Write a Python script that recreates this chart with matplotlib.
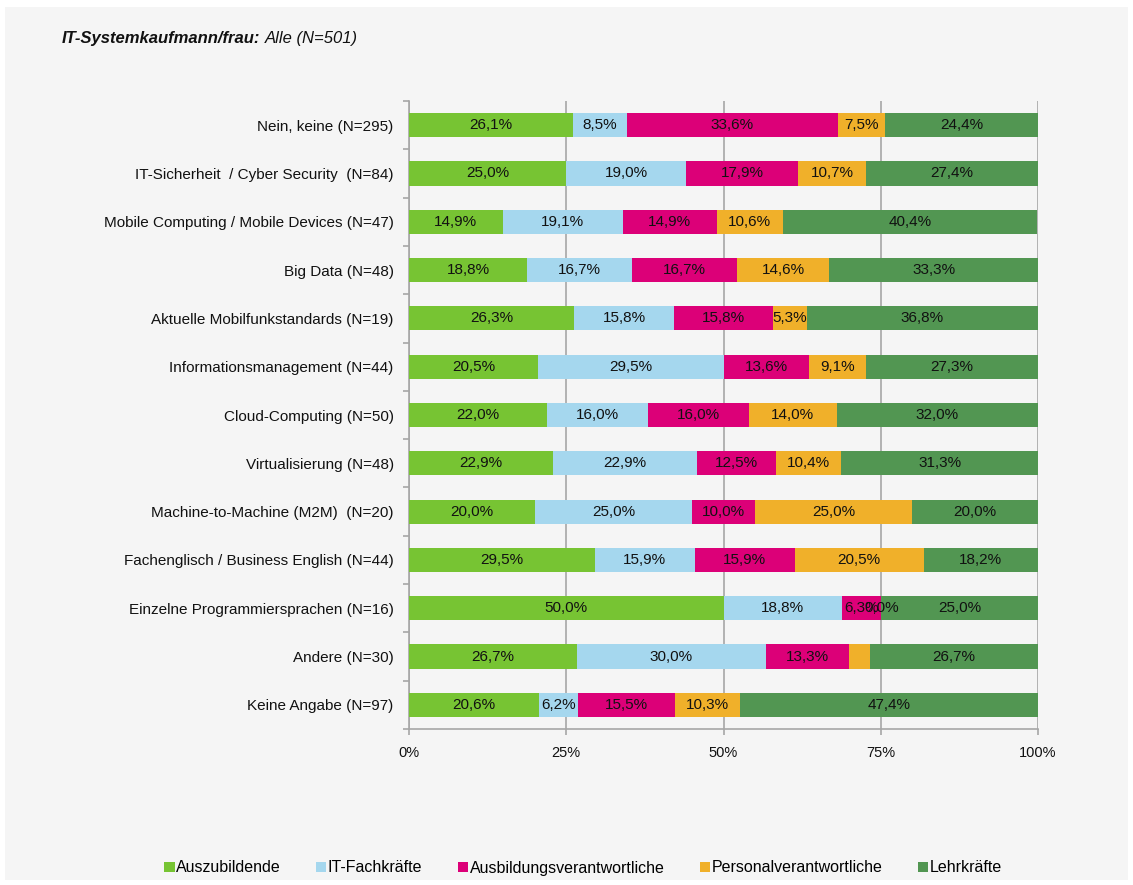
import matplotlib
matplotlib.use("Agg")
import matplotlib.pyplot as plt
from matplotlib.patches import Rectangle
import numpy as np

plt.rcParams['font.family'] = ['Liberation Sans', 'DejaVu Sans']

categories = [
    "Nein, keine (N=295)",
    "IT-Sicherheit  / Cyber Security  (N=84)",
    "Mobile Computing / Mobile Devices (N=47)",
    "Big Data (N=48)",
    "Aktuelle Mobilfunkstandards (N=19)",
    "Informationsmanagement (N=44)",
    "Cloud-Computing (N=50)",
    "Virtualisierung (N=48)",
    "Machine-to-Machine (M2M)  (N=20)",
    "Fachenglisch / Business English (N=44)",
    "Einzelne Programmiersprachen (N=16)",
    "Andere (N=30)",
    "Keine Angabe (N=97)",
]
series_names = ["Auszubildende", "IT-Fachkräfte", "Ausbildungsverantwortliche",
                "Personalverantwortliche", "Lehrkräfte"]
auszubildende = [26.1, 25.0, 14.9, 18.8, 26.3, 20.5, 22.0, 22.9, 20.0, 29.5, 50.0, 26.7, 20.6]
it_fachkraefte = [8.5, 19.0, 19.1, 16.7, 15.8, 29.5, 16.0, 22.9, 25.0, 15.9, 18.8, 30.0, 6.2]
ausbildungsverantw = [33.6, 17.9, 14.9, 16.7, 15.8, 13.6, 16.0, 12.5, 10.0, 15.9, 6.3, 13.3, 15.5]
personalverantw = [7.5, 10.7, 10.6, 14.6, 5.3, 9.1, 14.0, 10.4, 25.0, 20.5, 0.0, 3.3, 10.3]
lehrkraefte = [24.4, 27.4, 40.4, 33.3, 36.8, 27.3, 32.0, 31.3, 20.0, 18.2, 25.0, 26.7, 47.4]
# label not shown in the reference for this (category, series) pair
hidden_labels = [("Andere (N=30)", "Personalverantwortliche")]

series = [auszubildende, it_fachkraefte, ausbildungsverantw, personalverantw, lehrkraefte]
colors = ["#77c433", "#a5d7ee", "#dc0078", "#f0b02a", "#529652"]

W, H = 1133, 885
fig = plt.figure(figsize=(W / 100, H / 100), dpi=100)
fig.patch.set_facecolor("white")
fig.add_artist(Rectangle((5 / W, 5 / H), (W - 10) / W, (H - 12) / H,
                         transform=fig.transFigure, facecolor="#f5f5f5",
                         edgecolor="none", zorder=-10))

ax = fig.add_axes([409 / W, 1 - 729 / H, (1038 - 409) / W, (729 - 101) / H])
ax.set_facecolor("none")

y = np.arange(len(categories))
left = np.zeros(len(categories))
for name, vals, col in zip(series_names, series, colors):
    vals = np.array(vals)
    ax.barh(y, vals, left=left, height=0.5, color=col, label=name,
            edgecolor="none", zorder=3)
    for i, v in enumerate(vals):
        if (categories[i], name) in hidden_labels:
            continue
        ax.text(left[i] + v / 2, y[i], f"{v:.1f}%".replace(".", ","),
                ha="center", va="center", fontsize=11, color="#111111",
                zorder=5)
    left = left + vals

ax.set_xlim(0, 100)
ax.set_ylim(len(categories) - 0.5, -0.5)
ax.set_xticks([0, 25, 50, 75, 100])
ax.set_xticklabels(["0%", "25%", "50%", "75%", "100%"], fontsize=10.5)
ax.set_yticks(y)
ax.set_yticklabels(categories, fontsize=11)
ax.set_yticks(np.arange(-0.5, len(categories) + 0.5, 1), minor=True)

gridcol = "#a6a6a6"
ax.xaxis.grid(True, color=gridcol, linewidth=1.2, zorder=0)
ax.set_axisbelow(True)
for s in ["top", "right"]:
    ax.spines[s].set_visible(False)
for s in ["left", "bottom"]:
    ax.spines[s].set_color(gridcol)
    ax.spines[s].set_linewidth(1.2)
ax.tick_params(axis="y", which="major", length=0, pad=11, colors="#111111")
ax.tick_params(axis="y", which="minor", length=4, color=gridcol, width=1.2)
ax.tick_params(axis="x", which="major", length=4, color=gridcol, width=1.2,
               pad=8, labelcolor="#111111")

# title
t1 = fig.text(62 / W, 1 - 38 / H, "IT-Systemkaufmann/frau:", fontsize=12,
              fontweight="bold", fontstyle="italic", va="center", ha="left",
              color="#111111")
fig.canvas.draw()
bb = t1.get_window_extent()
fig.text((bb.x1 + 4) / W, 1 - 38 / H, "Alle (N=501)", fontsize=12,
         fontstyle="italic", va="center", ha="left", color="#111111")

leg = fig.legend(loc="center", bbox_to_anchor=(583 / W, 1 - 868 / H), ncol=5,
                 frameon=False, fontsize=11.5, handlelength=0.65, handleheight=0.65,
                 handletextpad=0.1, columnspacing=2.2)

fig.savefig("out.png", dpi=100, facecolor=fig.get_facecolor())
